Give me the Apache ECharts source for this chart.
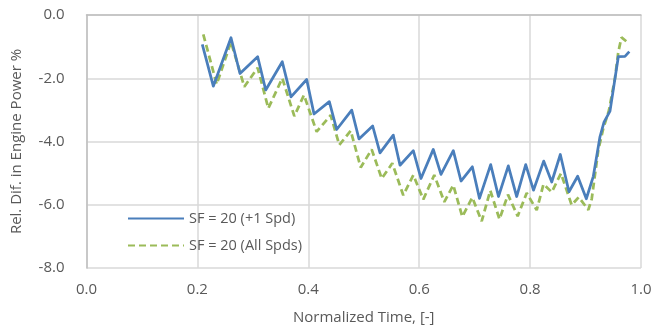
<!DOCTYPE html>
<html>
<head>
<meta charset="utf-8">
<script src="https://cdn.jsdelivr.net/npm/echarts@6/dist/echarts.min.js"></script>
<style>
  html, body { margin: 0; padding: 0; background: #fff; }
  #chart { width: 655px; height: 331px; }
</style>
</head>
<body>
<div id="chart"></div>
<script>
// Series names
const seriesNames = ['SF = 20 (+1 Spd)', 'SF = 20 (All Spds)'];

// Normalized time (x) and relative power difference % (y), +1 speed case
const timePlusOne = [0.2088, 0.2287, 0.2606, 0.2768, 0.3087, 0.3232, 0.3531, 0.3688, 0.3971, 0.4103,
  0.4379, 0.4512, 0.4783, 0.4914, 0.5161, 0.5293, 0.5533, 0.5654, 0.5894, 0.6032,
  0.6254, 0.6393, 0.6615, 0.6754, 0.6958, 0.7087, 0.7289, 0.7430, 0.7607, 0.7758,
  0.7921, 0.8061, 0.8245, 0.8390, 0.8545, 0.8701, 0.8858, 0.9014, 0.9140, 0.9260,
  0.9333, 0.9441, 0.9591, 0.9711, 0.9789];
const powerPlusOne = [-0.93, -2.25, -0.72, -1.85, -1.32, -2.37, -1.48, -2.59, -2.04, -3.13,
  -2.74, -3.62, -3.01, -3.92, -3.51, -4.36, -3.80, -4.75, -4.29, -5.17,
  -4.25, -5.04, -4.29, -5.25, -4.80, -5.80, -4.73, -5.74, -4.77, -5.74,
  -4.73, -5.54, -4.62, -5.28, -4.41, -5.59, -5.10, -5.81, -5.10, -3.85,
  -3.39, -3.04, -1.32, -1.31, -1.16];

// Same quantities, all speeds case
const timeAllSpds = [0.2106, 0.2348, 0.2606, 0.2846, 0.3087, 0.3279, 0.3531, 0.3748, 0.3922, 0.4151,
  0.4404, 0.4559, 0.4765, 0.4945, 0.5143, 0.5324, 0.5515, 0.5713, 0.5894, 0.6074,
  0.6272, 0.6453, 0.6615, 0.6777, 0.6958, 0.7127, 0.7282, 0.7448, 0.7601, 0.7776,
  0.7939, 0.8119, 0.8242, 0.8390, 0.8557, 0.8750, 0.8876, 0.9050, 0.9111, 0.9230,
  0.9320, 0.9423, 0.9531, 0.9591, 0.9648, 0.9742, 0.9789];
const powerAllSpds = [-0.61, -2.19, -0.85, -2.27, -1.67, -2.95, -2.00, -3.20, -2.53, -3.69,
  -3.17, -4.11, -3.66, -4.82, -4.25, -5.17, -4.69, -5.70, -5.06, -5.83,
  -5.06, -5.91, -5.38, -6.38, -5.77, -6.52, -5.55, -6.46, -5.68, -6.36,
  -5.63, -6.17, -5.35, -5.60, -5.01, -6.01, -5.76, -6.16, -5.82, -4.27,
  -3.59, -3.01, -1.99, -1.17, -0.71, -0.84, -0.79];

const pair = (xs, ys) => xs.map((x, i) => [x, ys[i]]);

const textColor = '#595959';
const font = '"Open Sans", "Liberation Sans", sans-serif';

const chart = echarts.init(document.getElementById('chart'), null, { renderer: 'canvas' });
chart.setOption({
  animation: false,
  backgroundColor: '#ffffff',
  grid: { left: 86.5, right: 14, top: 15, bottom: 63 },
  legend: {
    orient: 'vertical',
    left: 122,
    top: 206,
    itemWidth: 56,
    itemHeight: 14,
    itemGap: 12,
    // line-only keys: hide the marker drawn in the middle of each key
    itemStyle: { opacity: 0 },
    textStyle: { color: textColor, fontSize: 14.5, fontFamily: font },
    data: seriesNames
  },
  xAxis: {
    type: 'value',
    min: 0, max: 1, interval: 0.2,
    name: 'Normalized Time, [-]',
    nameLocation: 'middle',
    nameGap: 42,
    nameTextStyle: { color: textColor, fontSize: 15, fontFamily: font },
    axisLine: { show: true, lineStyle: { color: '#bfbfbf', width: 1.5 } },
    axisTick: { show: false },
    axisLabel: { color: textColor, fontSize: 15, fontFamily: font, margin: 14,
      formatter: v => v.toFixed(1) },
    splitLine: { show: true, lineStyle: { color: '#d9d9d9', width: 1.5 } }
  },
  yAxis: {
    type: 'value',
    min: -8, max: 0, interval: 2,
    name: 'Rel. Dif. in Engine Power %',
    nameLocation: 'middle',
    nameGap: 62,
    nameTextStyle: { color: textColor, fontSize: 15, fontFamily: font },
    axisLine: { show: true, lineStyle: { color: '#bfbfbf', width: 1.5 } },
    axisTick: { show: false },
    axisLabel: { color: textColor, fontSize: 15, fontFamily: font, margin: 22,
      formatter: v => v.toFixed(1) },
    splitLine: { show: true, lineStyle: { color: '#d9d9d9', width: 1.5 } }
  },
  series: [
    {
      name: seriesNames[0],
      type: 'line',
      data: pair(timePlusOne, powerPlusOne),
      symbol: 'none',
      lineStyle: { color: '#4a7ebb', width: 2.75, join: 'round' },
      itemStyle: { color: '#4a7ebb' },
      z: 3
    },
    {
      name: seriesNames[1],
      type: 'line',
      data: pair(timeAllSpds, powerAllSpds),
      symbol: 'none',
      lineStyle: { color: '#9bbb59', width: 2.75, type: [7, 4] },
      itemStyle: { color: '#9bbb59' },
      z: 2
    }
  ]
});
</script>
</body>
</html>
